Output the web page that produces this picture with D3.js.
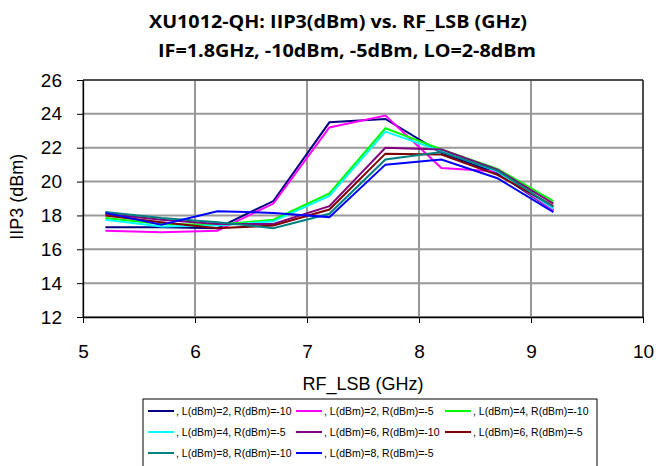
<!DOCTYPE html>
<html>
<head>
<meta charset="utf-8">
<script src="https://cdn.jsdelivr.net/npm/d3@7"></script>
<style>
  body { margin: 0; background: #fff; }
  svg { display: block; font-family: "Liberation Sans", Arial, sans-serif; }
</style>
</head>
<body>
<svg id="chart" width="656" height="466"></svg>
<script>
// RF frequencies (GHz)
const rfLsb = [5.2, 5.7, 6.2, 6.7, 7.2, 7.7, 8.2, 8.7, 9.2];

// IIP3 (dBm) per LO / RF drive combination
const l2r10 = [17.3, 17.3, 17.25, 18.85, 23.5, 23.7, 21.7, 20.5, 18.3];
const l2r5  = [17.1, 17.0, 17.1, 18.7, 23.2, 23.9, 20.8, 20.6, 18.3];
const l4r10 = [17.85, 17.5, 17.45, 17.75, 19.3, 23.15, 21.9, 20.75, 18.85];
const l4r5  = [17.75, 17.35, 17.4, 17.65, 19.15, 22.95, 21.8, 20.6, 18.4];
const l6r10 = [18.1, 17.75, 17.5, 17.5, 18.55, 22.0, 21.9, 20.7, 18.7];
const l6r5  = [18.0, 17.6, 17.25, 17.4, 18.35, 21.65, 21.6, 20.4, 18.55];
const l8r10 = [18.2, 17.85, 17.6, 17.25, 18.1, 21.3, 21.75, 20.65, 18.5];
const l8r5  = [18.15, 17.45, 18.25, 18.15, 17.9, 21.0, 21.3, 20.2, 18.2];

const seriesNames = [
  ", L(dBm)=2, R(dBm)=-10", ", L(dBm)=2, R(dBm)=-5", ", L(dBm)=4, R(dBm)=-10",
  ", L(dBm)=4, R(dBm)=-5", ", L(dBm)=6, R(dBm)=-10", ", L(dBm)=6, R(dBm)=-5",
  ", L(dBm)=8, R(dBm)=-10", ", L(dBm)=8, R(dBm)=-5"
];
const seriesValues = [l2r10, l2r5, l4r10, l4r5, l6r10, l6r5, l8r10, l8r5];
const seriesColors = ["#000080", "#ff00ff", "#00ff00", "#00ffff", "#800080", "#800000", "#008080", "#0000ff"];

const xTicks = [5, 6, 7, 8, 9, 10];
const yTicks = [12, 14, 16, 18, 20, 22, 24, 26];

const svg = d3.select("#chart");
const margin = {top: 80, right: 13, bottom: 149, left: 83};
const width = +svg.attr("width");
const height = +svg.attr("height");

const x = d3.scaleLinear().domain([5, 10]).range([margin.left, width - margin.right]);
const y = d3.scaleLinear().domain([12, 26]).range([height - margin.bottom, margin.top]);

// title (two lines, bold)
const titleLines = [
  {text: "XU1012-QH: IIP3(dBm) vs. RF_LSB (GHz)", cx: 338, y: 28},
  {text: "IF=1.8GHz, -10dBm, -5dBm, LO=2-8dBm", cx: 347, y: 57}
];
svg.append("g")
    .selectAll("text")
    .data(titleLines)
    .join("text")
    .attr("x", d => d.cx).attr("y", d => d.y)
    .attr("text-anchor", "middle")
    .attr("textLength", 378)
    .attr("lengthAdjust", "spacingAndGlyphs")
    .style("font-family", "'Open Sans', sans-serif")
    .style("font-weight", "bold").style("font-size", "17px")
    .text(d => d.text);

// grid
svg.append("g")
    .selectAll("line")
    .data(yTicks)
    .join("line")
    .attr("x1", x(5)).attr("x2", x(10))
    .attr("y1", d => y(d)).attr("y2", d => y(d))
    .attr("stroke", "#999").attr("stroke-width", 2);
svg.append("g")
    .selectAll("line")
    .data(xTicks)
    .join("line")
    .attr("x1", d => x(d)).attr("x2", d => x(d))
    .attr("y1", y(12)).attr("y2", y(26))
    .attr("stroke", "#999").attr("stroke-width", 2);

// plot frame (top/right)
svg.append("path")
    .attr("d", `M${x(5)},${y(26)}H${x(10)}V${y(12)}`)
    .attr("fill", "none").attr("stroke", "#000").attr("stroke-width", 1);

// axes
const xAxis = svg.append("g")
    .attr("transform", `translate(0,${y(12)})`)
    .call(d3.axisBottom(x).tickValues(xTicks).tickFormat(d3.format("d"))
        .tickSize(6).tickPadding(22).tickSizeOuter(0));
const yAxis = svg.append("g")
    .attr("transform", `translate(${x(5)},0)`)
    .call(d3.axisLeft(y).tickValues(yTicks).tickSize(6).tickPadding(15).tickSizeOuter(0));
[xAxis, yAxis].forEach(a => {
  a.select(".domain").attr("stroke", "#000").attr("stroke-width", 1.3);
  a.selectAll(".tick line").attr("stroke", "#000");
  a.selectAll(".tick text").attr("fill", "#000")
      .style("font-family", "'Liberation Sans', Arial, sans-serif").style("font-size", "19px");
});

// axis titles
svg.append("text")
    .attr("x", x(7.5)).attr("y", 390)
    .attr("text-anchor", "middle")
    .style("font-size", "18px")
    .text("RF_LSB (GHz)");
svg.append("text")
    .attr("transform", `translate(23,${y(19.1)}) rotate(-90)`)
    .attr("text-anchor", "middle")
    .style("font-size", "18px")
    .text("IIP3 (dBm)");

// lines
const line = d3.line()
    .x((d, i) => x(rfLsb[i]))
    .y(d => y(d));

svg.append("g")
    .selectAll("path")
    .data(seriesValues)
    .join("path")
    .attr("fill", "none")
    .attr("stroke", (d, i) => seriesColors[i])
    .attr("stroke-width", 2)
    .attr("d", line);

// legend
const legendCols = [5, 153, 302];
const legend = svg.append("g").attr("transform", "translate(143,399)");
legend.append("rect")
    .attr("x", 0).attr("y", 0).attr("width", 454).attr("height", 68)
    .attr("fill", "#fff").attr("stroke", "#000").attr("stroke-width", 1);
const item = legend.selectAll("g.item")
    .data(seriesNames)
    .join("g")
    .attr("class", "item")
    .attr("transform", (d, i) => `translate(${legendCols[i % 3]},${12 + Math.floor(i / 3) * 21})`);
item.append("line")
    .attr("x1", 0).attr("x2", 26)
    .attr("stroke", (d, i) => seriesColors[i]).attr("stroke-width", 2);
item.append("text")
    .attr("x", 28).attr("dy", "0.35em")
    .style("font-size", "10.5px")
    .text(d => d);
</script>
</body>
</html>
